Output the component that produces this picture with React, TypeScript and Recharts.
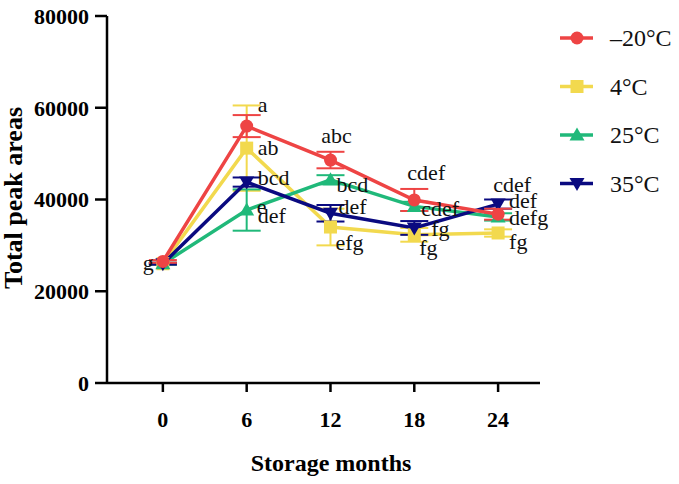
import React from 'react';
import { LineChart, Line, XAxis, YAxis, ErrorBar, Label } from 'recharts';

const months = [0, 6, 12, 18, 24];
const yTicks = [0, 20000, 40000, 60000, 80000];

const red = [26500, 56000, 48600, 39900, 36800];
const redErr = [300, 2400, 1800, 2400, 1200];
const yellow = [26000, 51200, 34000, 32300, 32700];
const yellowErr = [200, 9300, 4000, 1500, 800];
const green = [26000, 37700, 44300, 38500, 36200];
const greenErr = [200, 4500, 1000, 1000, 800];
const blue = [26000, 43800, 37000, 33800, 39000];
const blueErr = [200, 1000, 1800, 1500, 1000];

// letters of significance per point (several may sit at one point)
const redLetters = [['g'], ['a'], ['abc'], ['cdef'], ['def']];
const yellowLetters = [[], ['ab'], ['efg'], ['fg'], ['fg']];
const greenLetters = [[], ['e', 'def'], ['bcd'], ['cdef'], ['defg']];
const blueLetters = [[], ['bcd'], ['def'], ['fg'], ['cdef']];

const C_RED = '#ee4444';
const C_YEL = '#f2d94e';
const C_GRN = '#20b97a';
const C_BLU = '#0a0a80';

// label offsets [dx, dy, anchor]
const redPos: any[][][] = [[[-9, 1, 'end']], [[11, -22, 'start']], [[6, -25, 'middle']], [[12, -27, 'middle']], [[11, -14, 'start']]];
const yellowPos: any[][][] = [[], [[11, -1, 'start']], [[5, 15, 'start']], [[5, 13, 'start']], [[11, 9, 'start']]];
const greenPos: any[][][] = [[], [[10, -4, 'start'], [11, 5, 'start']], [[6, 5, 'start']], [[7, 2, 'start']], [[11, 1, 'start']]];
const bluePos: any[][][] = [[], [[11, -5, 'start']], [[8, -7, 'start']], [[17, 1, 'start']], [[14, -20, 'middle']]];

const data = months.map((m, i) => ({
  month: m,
  red: red[i], redErr: redErr[i],
  yellow: yellow[i], yellowErr: yellowErr[i],
  green: green[i], greenErr: greenErr[i],
  blue: blue[i], blueErr: blueErr[i],
}));

const FONT = '"Liberation Serif", "Times New Roman", serif';

const Marker = ({ kind, cx, cy, color }: any) => {
  const s = 6.5;
  if (kind === 'circle') return <circle cx={cx} cy={cy} r={s} fill={color} />;
  if (kind === 'square') return <rect x={cx - s} y={cy - s} width={2 * s} height={2 * s} fill={color} />;
  if (kind === 'up')
    return <polygon points={`${cx},${cy - s - 1} ${cx + s + 1},${cy + s - 1} ${cx - s - 1},${cy + s - 1}`} fill={color} />;
  return <polygon points={`${cx},${cy + s + 1} ${cx + s + 1},${cy - s + 1} ${cx - s - 1},${cy - s + 1}`} fill={color} />;
};

const makeDot = (kind: string, color: string) => (p: any) =>
  <Marker key={`d-${kind}-${p.index}`} kind={kind} cx={p.cx} cy={p.cy} color={color} />;

const makeLabel = (letters: string[][], pos: any[][][]) => (p: any) => {
  const list = letters[p.index] || [];
  return (
    <g key={`l-${p.index}-${list.join()}`}>
      {list.map((t, k) => (
        <text
          key={k}
          x={p.x + pos[p.index][k][0]}
          y={p.y + pos[p.index][k][1]}
          textAnchor={pos[p.index][k][2]}
          dominantBaseline="central"
          fontFamily={FONT}
          fontSize={22}
          fill="#111"
        >
          {t}
        </text>
      ))}
    </g>
  );
};

const legendItems = [
  { name: '\u201320\u00b0C', color: C_RED, kind: 'circle' },
  { name: '4\u00b0C', color: C_YEL, kind: 'square' },
  { name: '25\u00b0C', color: C_GRN, kind: 'up' },
  { name: '35\u00b0C', color: C_BLU, kind: 'down' },
];

export default function App() {
  return (
    <div style={{ position: 'absolute', left: 0, top: 0, width: 679, height: 484, background: '#fff' }}>
      <LineChart width={679} height={484} data={data} margin={{ top: 16, right: 139, left: 0, bottom: 0 }}>
        <XAxis
          dataKey="month"
          type="number"
          domain={[-4, 27]}
          ticks={months}
          height={101}
          stroke="#000"
          strokeWidth={2.5}
          tickSize={9}
          tickMargin={19}
          tick={{ fontFamily: FONT, fontSize: 22, fontWeight: 'bold', fill: '#000' }}
        >
          <Label
            content={() => (
              <text x={331} y={471} textAnchor="middle" fontFamily={FONT} fontSize={24} fontWeight="bold" fill="#000">
                Storage months
              </text>
            )}
          />
        </XAxis>
        <YAxis
          domain={[0, 80000]}
          ticks={yTicks}
          width={107}
          stroke="#000"
          strokeWidth={2.5}
          tickSize={12}
          tickMargin={6}
          tick={{ fontFamily: FONT, fontSize: 22, fontWeight: 'bold', fill: '#000' }}
        >
          <Label
            content={() => (
              <text
                x={22}
                y={198}
                transform="rotate(-90 22 198)"
                textAnchor="middle"
                fontFamily={FONT}
                fontSize={26}
                fontWeight="bold"
                fill="#000"
              >
                Total peak areas
              </text>
            )}
          />
        </YAxis>
        <Line dataKey="yellow" stroke={C_YEL} strokeWidth={3.5} isAnimationActive={false}
          dot={makeDot('square', C_YEL)} label={makeLabel(yellowLetters, yellowPos)}>
          <ErrorBar dataKey="yellowErr" direction="y" width={14} stroke={C_YEL} strokeWidth={2} />
        </Line>
        <Line dataKey="green" stroke={C_GRN} strokeWidth={3.5} isAnimationActive={false}
          dot={makeDot('up', C_GRN)} label={makeLabel(greenLetters, greenPos)}>
          <ErrorBar dataKey="greenErr" direction="y" width={14} stroke={C_GRN} strokeWidth={2} />
        </Line>
        <Line dataKey="blue" stroke={C_BLU} strokeWidth={3.5} isAnimationActive={false}
          dot={makeDot('down', C_BLU)} label={makeLabel(blueLetters, bluePos)}>
          <ErrorBar dataKey="blueErr" direction="y" width={14} stroke={C_BLU} strokeWidth={2} />
        </Line>
        <Line dataKey="red" stroke={C_RED} strokeWidth={3.5} isAnimationActive={false}
          dot={makeDot('circle', C_RED)} label={makeLabel(redLetters, redPos)}>
          <ErrorBar dataKey="redErr" direction="y" width={14} stroke={C_RED} strokeWidth={2} />
        </Line>
      </LineChart>
      <svg width={140} height={220} style={{ position: 'absolute', left: 545, top: 10 }}>
        {legendItems.map((it, i) => {
          const y = 28 + i * 48.5;
          return (
            <g key={it.name}>
              <line x1={15} x2={48} y1={y} y2={y} stroke={it.color} strokeWidth={3.5} />
              <Marker kind={it.kind} cx={32} cy={y} color={it.color} />
              <text x={65} y={y} dominantBaseline="central" fontFamily={FONT} fontSize={24} fill="#111">
                {it.name}
              </text>
            </g>
          );
        })}
      </svg>
    </div>
  );
}
